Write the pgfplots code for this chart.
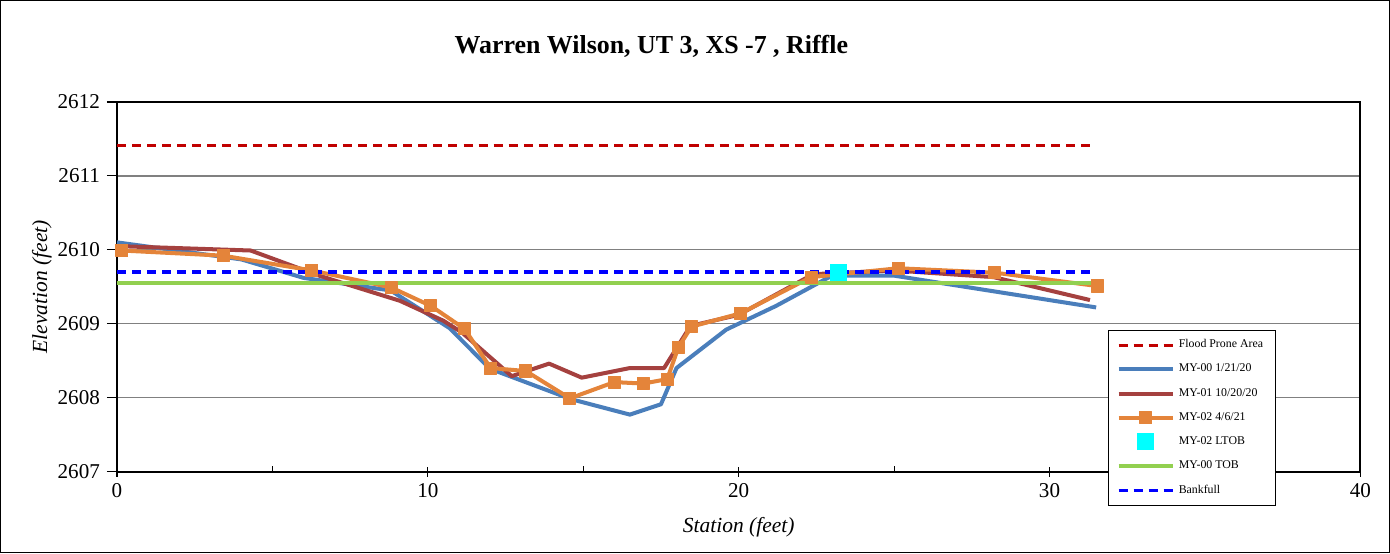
\documentclass[border=0pt]{standalone}
\usepackage{pgfplots}
\pgfplotsset{compat=1.18}
\usepackage{fontspec}
\setmainfont{Liberation Serif}
\definecolor{floodred}{HTML}{C00000}
\definecolor{myblue}{HTML}{4A7EBB}
\definecolor{myred}{HTML}{A5413F}
\definecolor{myorange}{HTML}{E4843A}
\definecolor{mygreen}{HTML}{92D050}
\definecolor{bankblue}{HTML}{0000FF}
\definecolor{mycyan}{HTML}{00FFFF}
\begin{document}
\begin{tikzpicture}
\begin{axis}[
  at={(0,0)}, anchor=origin,
  scale only axis, width=619pt, height=184pt,
  xmin=0, xmax=40, ymin=2607, ymax=2612,
  xtick={0,10,20,30,40}, ytick={2607,2608,...,2612},
  minor x tick num=1, minor y tick num=1,
  xtick pos=bottom, ytick pos=left,
  /pgf/number format/assume math mode=true,
  /pgf/number format/1000 sep={},
  ticklabel style={font=\fontsize{10.5}{12}\selectfont},
  xtick align=center, ytick align=outside,
  major tick length=5pt, minor tick length=3pt,
  tick style={black, line width=0.6pt},
  minor x tick style={yshift=1.5pt},
  minor y tick style={xshift=3pt},
  axis line style={black, line width=1pt},
  ymajorgrids, major grid style={gray, line width=0.7pt},
  xlabel={\textit{Station (feet)}}, ylabel={\textit{Elevation (feet)}},
  label style={font=\fontsize{10.7}{12}\selectfont},
  xlabel style={at={(axis description cs:0.5,0)}, anchor=north, yshift=-19.5pt},
  ylabel style={at={(axis description cs:0,0.5)}, anchor=south, yshift=29pt},
  legend style={at={(0.797,0.383)}, anchor=north west, draw=black, line width=0.5pt,
    font=\fontsize{5.9}{6.5}\selectfont, row sep=2.6pt, inner xsep=4pt, inner ysep=2.5pt,
    cells={anchor=west}},
  legend image code/.code={\draw[mark repeat=2,mark phase=2,#1] plot coordinates {(0pt,0pt) (13.5pt,0pt) (27pt,0pt)};},
  legend cell align=left,
  clip=false,
]
\addplot[floodred, line width=1.6pt, dash pattern=on 4.5pt off 3pt] coordinates {(0,2611.41) (31.5,2611.41)};
\addlegendentry{Flood Prone Area}
\addplot[myblue, line width=2pt, line join=round] coordinates {
(0,2610.10) (4.0,2609.87) (6.0,2609.62) (8.8,2609.45) (10.7,2608.94) (12.0,2608.39)
(14.6,2607.98) (16.5,2607.77) (17.5,2607.91) (18.0,2608.40) (19.6,2608.92) (21.2,2609.24)
(23.0,2609.65) (25.0,2609.65) (31.5,2609.22)};
\addlegendentry{MY-00 1/21/20}
\addplot[myred, line width=2pt, line join=round] coordinates {
(0,2610.05) (4.3,2609.99) (6.5,2609.65) (9.1,2609.31) (10.5,2609.04) (11.1,2608.88)
(12.7,2608.29) (13.9,2608.46) (14.95,2608.27) (16.5,2608.40) (17.6,2608.40) (18.45,2608.97)
(20.0,2609.12) (22.4,2609.67) (25.0,2609.72) (28.2,2609.63) (31.3,2609.32)};
\addlegendentry{MY-01 10/20/20}
\addplot[myorange, line width=2pt, line join=round, mark=square*, mark size=3pt, mark options={solid, fill=myorange, draw=myorange, line width=0.5pt}] coordinates {
(0.15,2609.99) (3.42,2609.92) (6.27,2609.72) (8.82,2609.49) (10.1,2609.24) (11.18,2608.93)
(12.02,2608.40) (13.15,2608.36) (14.57,2607.99) (16.0,2608.21) (16.93,2608.19) (17.7,2608.25)
(18.06,2608.68) (18.48,2608.96) (20.06,2609.14) (22.33,2609.63) (25.13,2609.75) (28.24,2609.69)
(31.53,2609.51)};
\addlegendentry{MY-02 4/6/21}
\addplot[only marks, mark=square*, mark size=4pt, mark options={fill=mycyan, draw=mycyan}] coordinates {(23.2,2609.70)};
\addlegendentry{MY-02 LTOB}
\addplot[mygreen, line width=2pt] coordinates {(0,2609.555) (31.5,2609.555)};
\addlegendentry{MY-00 TOB}
\addplot[bankblue, line width=1.6pt, dash pattern=on 4.5pt off 3pt] coordinates {(0,2609.70) (31.5,2609.70)};
\addlegendentry{Bankfull}
\end{axis}
\node[font=\fontsize{12.9}{14}\selectfont\bfseries] at (266pt,211.5pt) {Warren Wilson, UT 3, XS -7 , Riffle};
\draw[black, line width=0.5pt] (-58pt,-40.5pt) rectangle (633.5pt,234.5pt);
\end{tikzpicture}
\end{document}
